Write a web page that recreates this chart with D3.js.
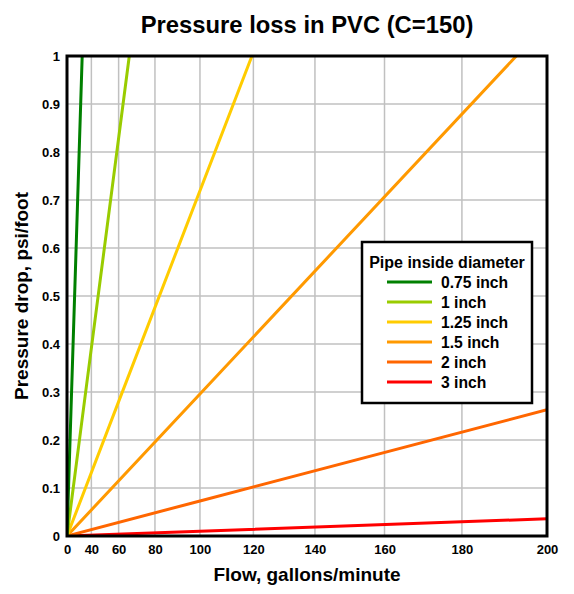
<!DOCTYPE html>
<html><head><meta charset="utf-8">
<script src="https://cdn.jsdelivr.net/npm/d3@7"></script>
<style>body{margin:0;background:#fff}svg{display:block;font-family:"Liberation Sans",Arial,sans-serif}</style>
</head><body><svg id="c" width="574" height="594"></svg>
<script>
// Data (flow gpm -> pressure drop psi/foot)
const names = ["0.75 inch", "1 inch", "1.25 inch", "1.5 inch", "2 inch", "3 inch"];
const colors = ["#008000", "#99cc00", "#ffcc00", "#ff9900", "#ff6600", "#ff0000"];
const flow075 = [0, 15, 31];   const drop075 = [0, 0.26, 1.0];
const flow100 = [0, 30, 66.4]; const drop100 = [0, 0.23, 1.0];
const flow125 = [0, 60, 119.5];const drop125 = [0, 0.28, 1.0];
const flow150 = [0, 100, 193]; const drop150 = [0, 0.296, 1.0];
const flow200 = [0, 100, 200]; const drop200 = [0, 0.073, 0.263];
const flow300 = [0, 100, 200]; const drop300 = [0, 0.0099, 0.036];
const xTicks = [0, 40, 60, 80, 100, 120, 140, 160, 180, 200];
const yTicks = [0, 0.1, 0.2, 0.3, 0.4, 0.5, 0.6, 0.7, 0.8, 0.9, 1];

const flows = [flow075, flow100, flow125, flow150, flow200, flow300];
const drops = [drop075, drop100, drop125, drop150, drop200, drop300];

const svg = d3.select("#c");
const L = 67, R = 547, T = 56, B = 536;
const x = d3.scalePow().exponent(1.852).domain([0, 200]).range([L, R]);
const y = d3.scaleLinear().domain([0, 1]).range([B, T]);

// grid
svg.append("g").selectAll("line").data(xTicks.slice(1)).join("line")
  .attr("x1", d => x(d)).attr("x2", d => x(d)).attr("y1", T).attr("y2", B)
  .attr("stroke", "#c0c0c0").attr("stroke-width", 1.5);
svg.append("g").selectAll("line").data(yTicks.slice(1)).join("line")
  .attr("y1", d => y(d)).attr("y2", d => y(d)).attr("x1", L).attr("x2", R)
  .attr("stroke", "#c0c0c0").attr("stroke-width", 1.5);

// lines
svg.append("clipPath").attr("id", "pc").append("rect")
  .attr("x", L).attr("y", T).attr("width", R - L).attr("height", B - T);
const line = d3.line().x(d => x(d[0])).y(d => y(d[1]));
const gl = svg.append("g").attr("clip-path", "url(#pc)");
for (let i = names.length - 1; i >= 0; i--) {
  const pts = flows[i].map((f, j) => [f, drops[i][j]]);
  gl.append("path").attr("d", line(pts)).attr("fill", "none")
    .attr("stroke", colors[i]).attr("stroke-width", 3);
}

// frame
svg.append("rect").attr("x", L).attr("y", T).attr("width", R - L).attr("height", B - T)
  .attr("fill", "none").attr("stroke", "#000").attr("stroke-width", 3);

// axes
const xAxis = d3.axisBottom(x).tickValues(xTicks).tickSize(0).tickPadding(9).tickFormat(d3.format("d"));
const gx = svg.append("g").attr("transform", `translate(0,${B})`).call(xAxis);
gx.select(".domain").remove();
gx.selectAll("text").attr("font-size", 13).attr("font-weight", "bold").attr("fill", "#000")
  .attr("font-family", "Liberation Sans, Arial, sans-serif");
const yAxis = d3.axisLeft(y).tickValues(yTicks).tickSize(0).tickPadding(7).tickFormat(d => d === 0 || d === 1 ? d3.format("d")(d) : d3.format(".1f")(d));
const gy = svg.append("g").attr("transform", `translate(${L},0)`).call(yAxis);
gy.select(".domain").remove();
gy.selectAll("text").attr("font-size", 13).attr("font-weight", "bold").attr("fill", "#000")
  .attr("font-family", "Liberation Sans, Arial, sans-serif");

// titles
svg.append("text").attr("x", (L + R) / 2).attr("y", 33).attr("text-anchor", "middle")
  .attr("font-size", 23.8).attr("font-weight", "bold").text("Pressure loss in PVC (C=150)");
svg.append("text").attr("x", (L + R) / 2).attr("y", 581).attr("text-anchor", "middle")
  .attr("font-size", 19).attr("font-weight", "bold").text("Flow, gallons/minute");
svg.append("text").attr("transform", `translate(28,${(T + B) / 2}) rotate(-90)`).attr("text-anchor", "middle")
  .attr("font-size", 19).attr("font-weight", "bold").text("Pressure drop, psi/foot");

// legend
const lg = svg.append("g");
lg.append("rect").attr("x", 362).attr("y", 242).attr("width", 170).attr("height", 161)
  .attr("fill", "#fff").attr("stroke", "#000").attr("stroke-width", 2.5);
lg.append("text").attr("x", 447).attr("y", 268).attr("text-anchor", "middle")
  .attr("font-size", 16).attr("font-weight", "bold").text("Pipe inside diameter");
names.forEach((n, i) => {
  const yy = 282 + i * 20;
  lg.append("line").attr("x1", 387).attr("x2", 432).attr("y1", yy).attr("y2", yy)
    .attr("stroke", colors[i]).attr("stroke-width", 3);
  lg.append("text").attr("x", 441).attr("y", yy + 5.5).attr("font-size", 15.7)
    .attr("font-weight", "bold").text(n);
});
</script></body></html>
